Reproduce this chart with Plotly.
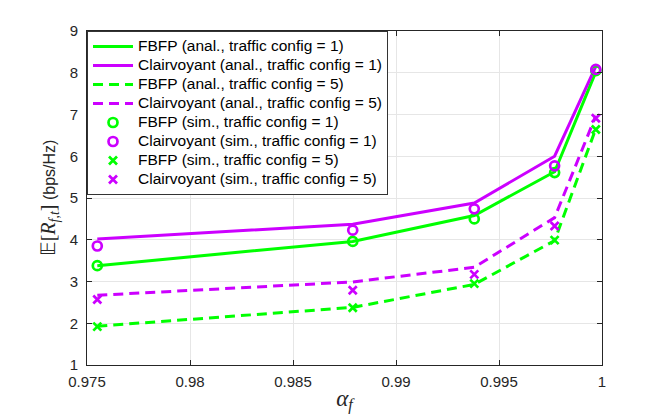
import plotly.graph_objects as go

alpha = [0.9755, 0.9879, 0.9938, 0.9977, 0.9997]

fbfp_anal_c1 = [3.38, 3.96, 4.58, 5.63, 8.02]
clair_anal_c1 = [4.02, 4.37, 4.88, 6.00, 8.15]
fbfp_anal_c5 = [1.93, 2.38, 2.93, 3.98, 6.66]
clair_anal_c5 = [2.67, 2.99, 3.34, 4.53, 6.97]
fbfp_sim_c1 = [3.38, 3.96, 4.50, 5.61, 8.05]
clair_sim_c1 = [3.85, 4.23, 4.74, 5.77, 8.08]
fbfp_sim_c5 = [1.92, 2.37, 2.95, 3.99, 6.64]
clair_sim_c5 = [2.57, 2.79, 3.17, 4.33, 6.91]

x_ticks = [0.975, 0.98, 0.985, 0.99, 0.995, 1.0]
x_tick_labels = ["0.975", "0.98", "0.985", "0.99", "0.995", "1"]
y_ticks = [1, 2, 3, 4, 5, 6, 7, 8, 9]

GREEN = "#00FF00"
PURPLE = "#CC00FF"
DASH = "10px,6px"


def leg(name):
    return '<span style="font-size:15.5px">' + name + '</span>'


fig = go.Figure()

lines = [
    ("FBFP (anal., traffic config = 1)", fbfp_anal_c1, GREEN, "solid"),
    ("Clairvoyant (anal., traffic config = 1)", clair_anal_c1, PURPLE, "solid"),
    ("FBFP (anal., traffic config = 5)", fbfp_anal_c5, GREEN, DASH),
    ("Clairvoyant (anal., traffic config = 5)", clair_anal_c5, PURPLE, DASH),
]
for name, vals, col, dash in lines:
    fig.add_trace(go.Scatter(x=alpha, y=vals, mode="lines", name=leg(name),
                             line=dict(color=col, width=3, dash=dash)))

marks = [
    ("FBFP (sim., traffic config = 1)", fbfp_sim_c1, GREEN, "circle-open", 9),
    ("Clairvoyant (sim., traffic config = 1)", clair_sim_c1, PURPLE, "circle-open", 9),
    ("FBFP (sim., traffic config = 5)", fbfp_sim_c5, GREEN, "x-thin-open", 8),
    ("Clairvoyant (sim., traffic config = 5)", clair_sim_c5, PURPLE, "x-thin-open", 8),
]
for name, vals, col, sym, sz in marks:
    fig.add_trace(go.Scatter(x=alpha, y=vals, mode="markers", name=leg(name),
                             marker=dict(color=col, symbol=sym, size=sz,
                                         line=dict(color=col, width=2.7))))

axis_common = dict(
    showline=True, linecolor="#262626", linewidth=1, mirror="ticks",
    ticks="inside", ticklen=5, tickcolor="#262626",
    showgrid=True, gridcolor="#E6E6E6", gridwidth=1, zeroline=False,
    tickfont=dict(family="Liberation Sans, Arial", size=15, color="#262626"),
)

fig.update_xaxes(range=[0.975, 1.0], tickvals=x_ticks, ticktext=x_tick_labels,
                 ticklabelstandoff=3,
                 title=dict(text="<i>α</i><sub><i>f</i></sub>",
                            font=dict(family="Liberation Serif, Times New Roman", size=23, color="#262626"),
                            standoff=0),
                 **axis_common)
fig.update_yaxes(range=[1, 9], tickvals=y_ticks,
                 ticklabelstandoff=5,
                 title=dict(text="<span style=\"font-family:'Liberation Serif';font-size:20px\">𝔼[<i>R</i><sub><i>f,t</i></sub>]</span> (bps/Hz)",
                            font=dict(family="Liberation Sans, Arial", size=16, color="#262626"),
                            standoff=10),
                 **axis_common)

fig.update_layout(
    width=664, height=418,
    margin=dict(l=87, r=62, t=31, b=49),
    plot_bgcolor="white", paper_bgcolor="white",
    legend=dict(x=0, y=1, xanchor="left", yanchor="top",
                bgcolor="white", bordercolor="#333333", borderwidth=1,
                font=dict(family="Liberation Sans, Arial", size=12, color="#000000"),
                tracegroupgap=0, itemwidth=40),
)

fig.write_html("out.html", config={"displayModeBar": False},
               post_script="document.body.style.margin='0';")
